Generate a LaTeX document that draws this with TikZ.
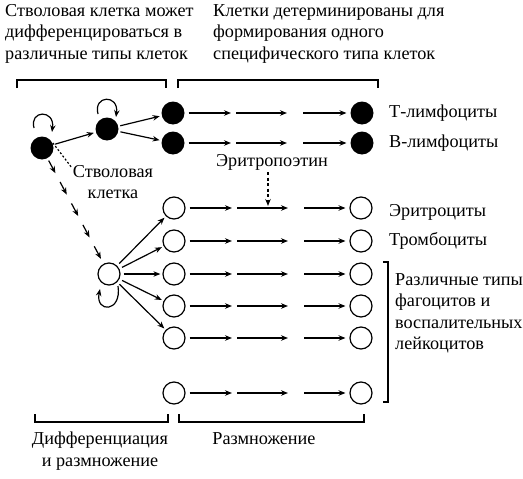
\documentclass[tikz,border=0pt]{standalone}
\usepackage{fontspec}
\setmainfont{Liberation Serif}
\usetikzlibrary{arrows.meta,calc}
\begin{document}
\begin{tikzpicture}[x=1pt,y=-1pt,
 cellf/.style={circle,fill=black,minimum size=23pt,inner sep=0pt},
 cello/.style={circle,draw,line width=1.2pt,minimum size=22pt,inner sep=0pt},
 arr/.style={-{Stealth[length=7pt,width=5.5pt]},line width=1.2pt},
 lbl/.style={font=\fontsize{18.2}{21.5}\selectfont,inner sep=0pt},
 brk/.style={line width=1.4pt}]
\useasboundingbox (0,0) rectangle (523,479);
% header texts
\node[lbl,anchor=north west,align=left] (h1) at (5,4) {Стволовая клетка может\\дифференцироваться в\\различные типы клеток};
\node[lbl,anchor=north west,align=left] (h2) at (213,4) {Клетки детерминированы для\\формирования одного\\специфического типа клеток};
% top brackets
\draw[brk] (17,88) -- (17,80) -- (166,80) -- (166,88);
\draw[brk] (178,88) -- (178,80) -- (378,80) -- (378,88);
% filled cells
\node[cellf] (s) at (42,148) {};
\node[cellf] (s2) at (107,129) {};
\node[cellf] (t1) at (173,113) {};
\node[cellf] (b1) at (173,143) {};
\node[cellf] (t4) at (362,113) {};
\node[cellf] (b4) at (362,143) {};
% open cells
\node[cello] (p) at (109,274) {};
\foreach \n/\y in {o1/208,o2/241,o3/274,o4/306,o5/338,o6/393}{
  \node[cello] (\n) at (174,\y) {};
  \node[cello] (\n e) at (361,\y) {};
}
% row arrows
\foreach \r/\e in {t1/t4,b1/b4,o1/o1e,o2/o2e,o3/o3e,o4/o4e,o5/o5e,o6/o6e}{
  \coordinate (\r a) at ($(\r)+(58,0)$);
  \coordinate (\r b) at ($(\r)+(63,0)$);
  \coordinate (\r c) at ($(\r)+(114,0)$);
  \coordinate (\r d) at ($(\r)+(130,0)$);
  \draw[arr,shorten <=4pt] (\r) ++(11.5,0) -- (\r a);
  \draw[arr] (\r b) -- (\r c);
  \draw[arr,shorten >=4pt] (\r d) -- ($(\e)+(-11.5,0)$);
}
% stem arrows
\draw[arr,shorten <=2pt,shorten >=2pt] (s) -- (s2);
\draw[arr,shorten <=2pt,shorten >=2pt] (s2) -- (t1);
\draw[arr,shorten <=2pt,shorten >=2pt] (s2) -- (b1);
% self loops
\draw[arr] (34,128) .. controls (29,110) and (55,109) .. (52,132);
\draw[arr] (98,114) .. controls (93,95) and (119,94) .. (116,117);
\draw[arr] (118,286) .. controls (122,313) and (95,313) .. (100,289);
% dashed arrows stem -> progenitor
\foreach \f in {0.10,0.27,0.44,0.61,0.78}{
  \draw[arr] ($(s)!\f!(p)$) -- ($(s)!\f+0.10!(p)$);
}
% progenitor arrows
\foreach \n in {o1,o2,o3,o4,o5}{
  \draw[arr,shorten <=3pt,shorten >=2pt] (p) -- (\n);
}
% stem label
\node[lbl,align=center] (sl) at (113,182) {Стволовая\\клетка};
\draw[line width=1.2pt,dash pattern=on 2pt off 2pt] (s) ++(-25:12) -- (72,168);
% erythropoietin
\node[lbl] (ep) at (272,162) {Эритропоэтин};
\coordinate (ee) at (268,206);
\draw[arr,dash pattern=on 3pt off 2.5pt] (268,172) -- (ee);
% right labels
\node[lbl,anchor=west] (lt) at (389,113) {Т-лимфоциты};
\node[lbl,anchor=west] (lb) at (389,143) {В-лимфоциты};
\node[lbl,anchor=west] (le) at (389,212) {Эритроциты};
\node[lbl,anchor=west] (lr) at (389,241) {Тромбоциты};
\node[lbl,anchor=north west,align=left] (lf) at (395,273) {Различные типы\\фагоцитов и\\воспалительных\\лейкоцитов};
\draw[brk] (383,262) -- (388,262) -- (388,402) -- (383,402);
% bottom brackets
\draw[brk] (35,414) -- (35,422) -- (168,422) -- (168,414);
\draw[brk] (179,414) -- (179,422) -- (364,422) -- (364,414);
\node[lbl,align=center,anchor=north] (bl) at (100,432) {Дифференциация\\и размножение};
\node[lbl,anchor=north] (br) at (264,432) {Размножение};
\end{tikzpicture}
\end{document}
